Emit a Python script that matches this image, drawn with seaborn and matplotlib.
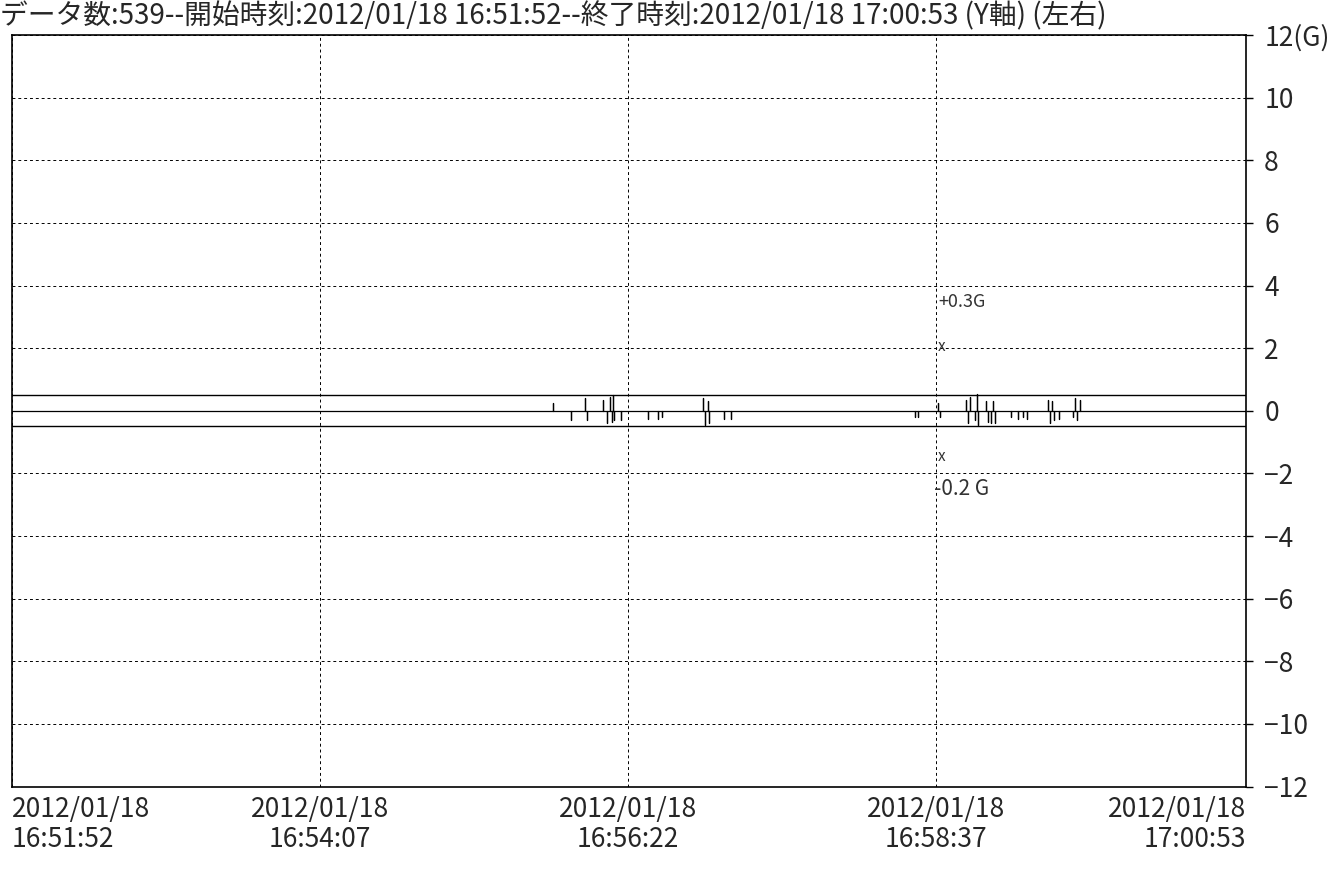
import matplotlib
matplotlib.use('Agg')
import matplotlib.pyplot as plt
import seaborn as sns
import numpy as np
import pandas as pd

sns.set_theme(style='white')
plt.rcParams['font.family'] = ['Noto Sans CJK JP', 'DejaVu Sans']

# data: seconds from 16:51:52, spikes around the zero line (G)
title = 'データ数:539--開始時刻:2012/01/18 16:51:52--終了時刻:2012/01/18 17:00:53 (Y軸) (左右)'
total_sec = 541
spike_sec = [237, 245, 251, 252, 259, 261, 262, 263, 263.5, 264, 267, 279, 283, 285,
             303, 304, 305, 305.5, 312, 315,
             396, 397, 406, 407, 418, 419, 420, 422, 423, 423.5, 427, 428, 429, 430, 431,
             438, 441, 443, 445, 454, 455, 456, 457, 459, 465, 466, 467, 468]
spike_val = [0.25, -0.3, 0.4, -0.3, 0.35, -0.4, 0.45, -0.35, 0.5, -0.3, -0.3, -0.25, -0.25, -0.2,
             0.4, -0.45, 0.3, -0.4, -0.25, -0.25,
             -0.2, -0.2, 0.25, -0.2, 0.35, -0.4, 0.45, -0.3, 0.55, -0.45, 0.3, -0.35, -0.4, 0.3, -0.4,
             -0.2, -0.25, -0.2, -0.25, 0.35, -0.4, 0.3, -0.3, -0.25, -0.2, 0.4, -0.3, 0.35]
limit_upper = 0.5
limit_lower = -0.5
tick_sec = [0, 135, 270, 405, 541]
tick_labels = ['2012/01/18\n16:51:52', '2012/01/18\n16:54:07', '2012/01/18\n16:56:22',
               '2012/01/18\n16:58:37', '2012/01/18\n17:00:53']
y_ticks = [12, 10, 8, 6, 4, 2, 0, -2, -4, -6, -8, -10, -12]
y_labels = ['12(G)'] + [str(v).replace('-', '−') for v in y_ticks[1:]]

# build the trace: baseline with a spike up/down at each event
xs, ys = [0], [0.0]
for t, v in zip(spike_sec, spike_val):
    xs += [t, t, t]
    ys += [0.0, v, 0.0]
xs.append(total_sec)
ys.append(0.0)
df = pd.DataFrame({'sec': xs, 'g': ys})

fig = plt.figure(figsize=(13.37, 8.74), dpi=100)
ax = fig.add_axes([0.009, 0.1, 0.923, 0.86])

sns.lineplot(data=df, x='sec', y='g', ax=ax, color='black', linewidth=0.9,
             sort=False, estimator=None)
ax.axhline(limit_upper, color='black', linewidth=1.0)
ax.axhline(limit_lower, color='black', linewidth=1.0)

ax.set_xlim(0, total_sec)
ax.set_ylim(-12, 12)
ax.set_xlabel('')
ax.set_ylabel('')

ax.yaxis.tick_right()
ax.set_yticks(y_ticks)
ax.set_yticklabels(y_labels, fontsize=19)
ax.tick_params(axis='y', length=5, width=1, color='black', pad=8, direction='out', right=True)

ax.set_xticks(tick_sec)
ax.set_xticklabels(tick_labels, fontsize=19, linespacing=1.15)
ax.tick_params(axis='x', length=0, pad=7)
lbls = ax.get_xticklabels()
lbls[0].set_ha('left')
lbls[-1].set_ha('right')

ax.grid(True, linestyle=(0, (3, 3)), color='black', linewidth=0.7)
for s in ax.spines.values():
    s.set_color('black')
    s.set_linewidth(1.2)

# handwritten notes on the sheet
ax.text(406, 3.3, '+0.3G', fontsize=13, color='#333333')
ax.text(406, 1.9, 'x', fontsize=11, color='#333333')
ax.text(406, -1.6, 'x', fontsize=11, color='#333333')
ax.text(404, -2.7, '-0.2 G', fontsize=15, color='#333333')

fig.text(0.0, 0.981, title, fontsize=20, ha='left', va='center')

fig.savefig('out.png', dpi=100, facecolor='white')
